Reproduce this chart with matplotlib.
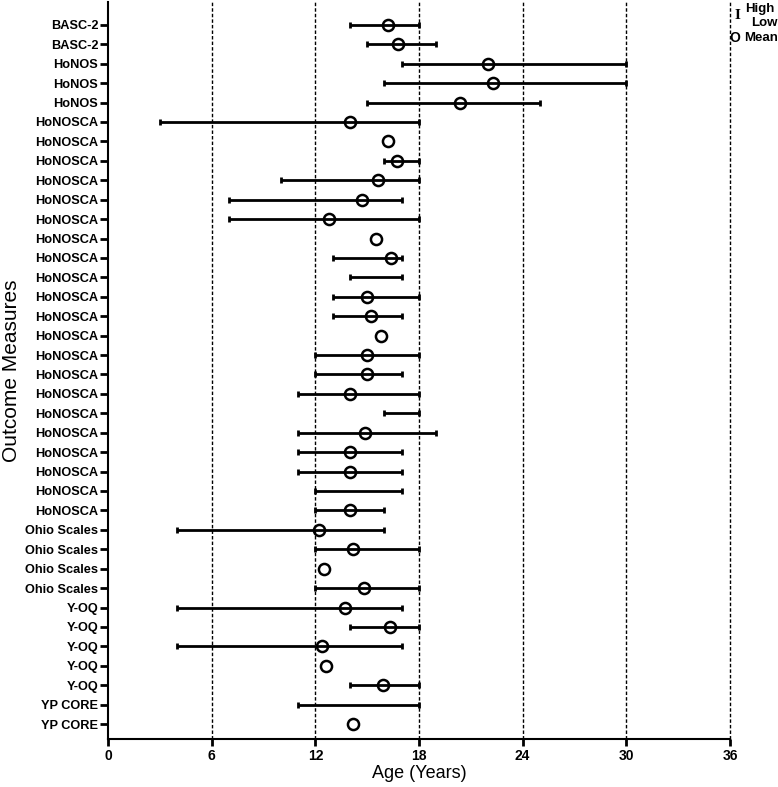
import numpy as np
import matplotlib.pyplot as plt

plt.rcParams['font.family'] = ['Liberation Sans', 'DejaVu Sans']

# outcome measures, top to bottom
measures = ["BASC-2", "BASC-2", "HoNOS", "HoNOS", "HoNOS",
            "HoNOSCA", "HoNOSCA", "HoNOSCA", "HoNOSCA", "HoNOSCA", "HoNOSCA",
            "HoNOSCA", "HoNOSCA", "HoNOSCA", "HoNOSCA", "HoNOSCA", "HoNOSCA",
            "HoNOSCA", "HoNOSCA", "HoNOSCA", "HoNOSCA", "HoNOSCA", "HoNOSCA",
            "HoNOSCA", "HoNOSCA", "HoNOSCA",
            "Ohio Scales", "Ohio Scales", "Ohio Scales", "Ohio Scales",
            "Y-OQ", "Y-OQ", "Y-OQ", "Y-OQ", "Y-OQ", "YP CORE", "YP CORE"]

nan = np.nan
low = [14, 15, 17, 16, 15,
       3, nan, 16, 10, 7, 7,
       nan, 13, 14, 13, 13, nan,
       12, 12, 11, 16, 11, 11,
       11, 12, 12,
       4, 12, nan, 12,
       4, 14, 4, nan, 14, 11, nan]
mean = [16.2, 16.8, 22.0, 22.3, 20.4,
        14.0, 16.2, 16.7, 15.6, 14.7, 12.8,
        15.5, 16.4, nan, 15.0, 15.2, 15.8,
        15.0, 15.0, 14.0, nan, 14.9, 14.0,
        14.0, nan, 14.0,
        12.2, 14.2, 12.5, 14.8,
        13.7, 16.3, 12.4, 12.6, 15.9, nan, 14.2]
high = [18, 19, 30, 30, 25,
        18, nan, 18, 18, 17, 18,
        nan, 17, 17, 18, 17, nan,
        18, 17, 18, 18, 19, 17,
        17, 17, 16,
        16, 18, nan, 18,
        17, 18, 17, nan, 18, 18, nan]

age_ticks = [0, 6, 12, 18, 24, 30, 36]

y = np.arange(len(measures))

fig = plt.figure(figsize=(7.78, 7.87), dpi=100)
ax = fig.add_axes([0.1388, 0.061, 0.7995, 0.9365])

# dashed reference lines
for t in age_ticks[1:]:
    ax.axvline(t, color='black', linestyle=(0, (2.5, 1.5)), linewidth=1, zorder=1, clip_on=False)

# low-high ranges with caps
ax.hlines(y, low, high, color='black', linewidth=2, zorder=2)
ax.plot(low, y, linestyle='none', marker='|', color='black', markersize=5, markeredgewidth=2, zorder=2)
ax.plot(high, y, linestyle='none', marker='|', color='black', markersize=5, markeredgewidth=2, zorder=2)

# means
ax.plot(mean, y, linestyle='none', marker='o', markerfacecolor='none', markeredgecolor='black',
        markersize=8, markeredgewidth=1.8, zorder=3)

ax.set_xlim(0, 36)
ax.set_ylim(len(measures) - 1 + 0.77, -1.18)
ax.set_xticks(age_ticks)
ax.set_yticks(y)
ax.set_yticklabels(measures, fontsize=9.2, fontweight='bold')
for lab in ax.get_xticklabels():
    lab.set_fontsize(10)
    lab.set_fontweight('bold')

ax.spines['top'].set_visible(False)
ax.spines['right'].set_visible(False)
ax.spines['left'].set_linewidth(1.5)
ax.spines['bottom'].set_linewidth(1.5)
ax.spines['bottom'].set_bounds(0, 36)
ax.tick_params(axis='y', length=6, width=2, pad=1)
ax.tick_params(axis='x', length=5, width=2, pad=2)

ax.set_xlabel("Age (Years)", fontsize=13, labelpad=2)
ax.set_ylabel("Outcome Measures", fontsize=15, labelpad=3)

# legend in the top right corner
fig.text(0.948, 0.980, "I", fontsize=11, fontweight='bold', family='Liberation Serif', ha='center', va='center')
fig.text(0.958, 0.988, "High", fontsize=9.5, fontweight='bold', ha='left', va='center')
fig.text(0.966, 0.971, "Low", fontsize=9.5, fontweight='bold', ha='left', va='center')
fig.text(0.945, 0.952, "O", fontsize=10, fontweight='bold', ha='center', va='center')
fig.text(0.956, 0.952, "Mean", fontsize=9.5, fontweight='bold', ha='left', va='center')

plt.savefig("out.png", dpi=100)
